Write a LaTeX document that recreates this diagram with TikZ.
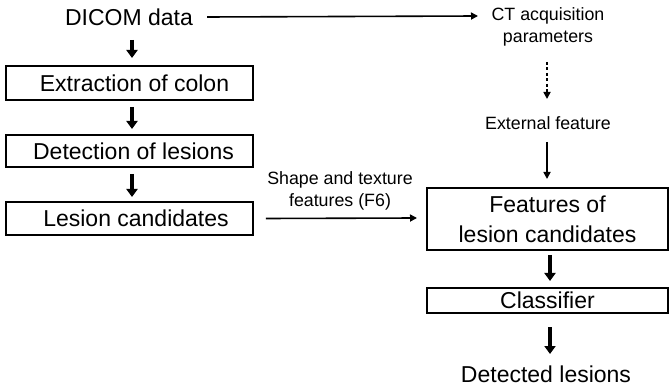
\documentclass[tikz,border=0pt]{standalone}
\usepackage{fontspec}
\setmainfont{Liberation Sans}
\usetikzlibrary{arrows.meta}
\begin{document}
\begin{tikzpicture}[x=1pt,y=-1pt,
  bigtxt/.style={font=\fontsize{23}{27}\selectfont, inner sep=0pt, align=center},
  smalltxt/.style={font=\fontsize{17.8}{22.5}\selectfont, inner sep=0pt, align=center},
  stepbox/.style={draw, line width=1.6pt, minimum width=247pt, font=\fontsize{23}{27}\selectfont, align=center},
  thick arr/.style={line width=3.4pt, -{Triangle[width=11pt,length=8pt]}},
  thin arr/.style={line width=1.6pt, -{Triangle[width=7pt,length=7pt]}},
  dash arr/.style={line width=1.6pt, dash pattern=on 3pt off 2.5pt, -{Triangle[width=7pt,length=7pt]}}]
\useasboundingbox (0,0) rectangle (669,387);
% left column
\node[bigtxt] (dicom) at (129,17) {DICOM data};
\node[stepbox, minimum height=34pt] (extr) at (129.5,83) {\hspace*{10pt}Extraction of colon};
\node[stepbox, minimum height=32pt] (detc) at (129.5,151) {\hspace*{8pt}Detection of lesions};
\node[stepbox, minimum height=33pt] (cand) at (129.5,218.5) {\hspace*{13pt}Lesion candidates};
% right column
\node[smalltxt] (ct) at (548,27) {CT acquisition\\parameters};
\node[smalltxt] (ext) at (548,123) {External feature};
\node[stepbox, minimum width=241pt, minimum height=62pt, font=\fontsize{23}{30}\selectfont] (feat) at (547.5,219) {Features of\\lesion candidates};
\node[stepbox, minimum width=241pt, minimum height=25pt] (clf) at (547.5,300.5) {Classifier};
\node[bigtxt] (det) at (546,374) {Detected lesions};
% label
\node[smalltxt] (lbl) at (340,191) {Shape and texture\\features (F6)};
% connectors
\coordinate (ctin) at (478,16);
\coordinate (featin) at (417,218);
\draw[thin arr] (dicom.east) ++(14,0) -- (ctin);
\draw[thick arr] (132,40) -- (132,58);
\draw[thick arr] (132,107) -- (132,129);
\draw[thick arr] (132,174) -- (132,197);
\draw[thin arr] (cand.east) ++(12,0) -- (featin);
\draw[dash arr] (547,62) -- (547,99);
\draw[thin arr] (547,142) -- (547,179);
\draw[thick arr] (550,255) -- (550,281);
\draw[thick arr] (550,327) -- (550,354);
\end{tikzpicture}
\end{document}
